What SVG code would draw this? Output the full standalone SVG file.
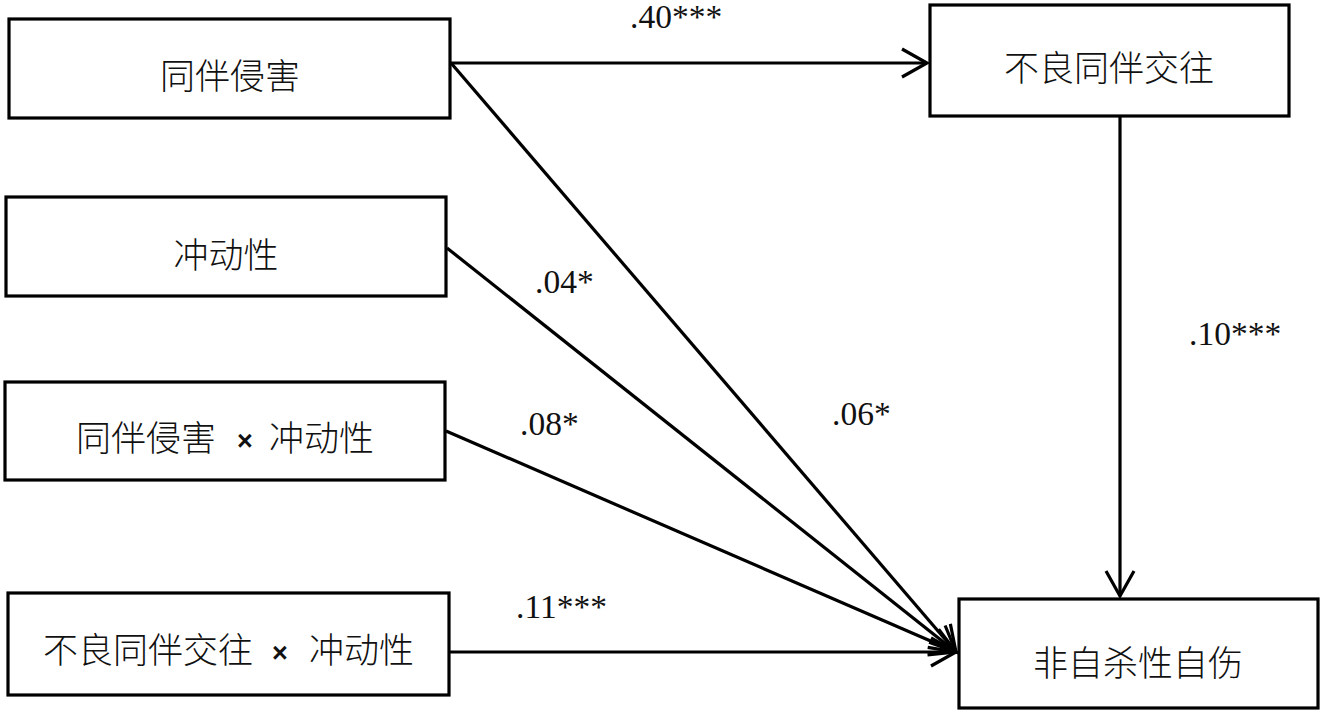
<svg xmlns="http://www.w3.org/2000/svg" width="1326" height="717" viewBox="0 0 1326 717">
<style>
.box{fill:#fff;stroke:#000;stroke-width:3.2}
.lbl{font-family:"Noto Sans CJK SC","Noto Sans CJK JP",sans-serif;font-size:35px;font-weight:300;fill:#111}
.x{font-family:"Liberation Sans",Arial,sans-serif;font-weight:bold;font-size:27px;fill:#111}
.coef{font-family:"Liberation Serif","Times New Roman",serif;font-size:33.5px;fill:#111}
.conn{stroke:#000;stroke-width:3.2;fill:none}
</style>
<defs>
<marker id="arr" markerUnits="userSpaceOnUse" markerWidth="40" markerHeight="40" viewBox="-30 -20 34 40" refX="0" refY="0" orient="auto">
<path d="M-25,-14 L0,0 L-25,14" fill="none" stroke="#000" stroke-width="3.2"/>
</marker>
</defs>
<rect width="1326" height="717" fill="#fff"/>
<g id="connectors">
<line class="conn" x1="451" y1="63" x2="927" y2="63" marker-end="url(#arr)"/>
<line class="conn" x1="1120" y1="117" x2="1120" y2="596" marker-end="url(#arr)"/>
<line class="conn" x1="451" y1="63" x2="956" y2="652" marker-end="url(#arr)"/>
<line class="conn" x1="447" y1="248" x2="956" y2="652" marker-end="url(#arr)"/>
<line class="conn" x1="446" y1="431" x2="956" y2="652" marker-end="url(#arr)"/>
<line class="conn" x1="450" y1="652" x2="956" y2="652" marker-end="url(#arr)"/>
<text class="coef" x="630" y="28">.40***</text>
<text class="coef" x="1189" y="345">.10***</text>
<text class="coef" x="535" y="293">.04*</text>
<text class="coef" x="832" y="425">.06*</text>
<text class="coef" x="520" y="435">.08*</text>
<text class="coef" x="516" y="618">.11***</text>
</g>
<g id="n_peer_victim">
<rect class="box" x="9" y="19" width="441" height="99"/>
<text class="lbl" x="230" y="89" text-anchor="middle">同伴侵害</text>
</g>
<g id="n_deviant_peer">
<rect class="box" x="930" y="5" width="359" height="111"/>
<text class="lbl" x="1109" y="81" text-anchor="middle">不良同伴交往</text>
</g>
<g id="n_impulsivity">
<rect class="box" x="6" y="197" width="440" height="99"/>
<text class="lbl" x="226" y="268" text-anchor="middle">冲动性</text>
</g>
<g id="n_victim_x_imp">
<rect class="box" x="5" y="382" width="440" height="98"/>
<text class="lbl" x="76" y="451">同伴侵害</text>
<text class="x" x="245" y="450" text-anchor="middle">×</text>
<text class="lbl" x="269" y="451">冲动性</text>
</g>
<g id="n_deviant_x_imp">
<rect class="box" x="8" y="593" width="441" height="102"/>
<text class="lbl" x="43" y="663">不良同伴交往</text>
<text class="x" x="280" y="662" text-anchor="middle">×</text>
<text class="lbl" x="309" y="663">冲动性</text>
</g>
<g id="n_nssi">
<rect class="box" x="959" y="599" width="359" height="109"/>
<text class="lbl" x="1138" y="676" text-anchor="middle">非自杀性自伤</text>
</g>
</svg>
